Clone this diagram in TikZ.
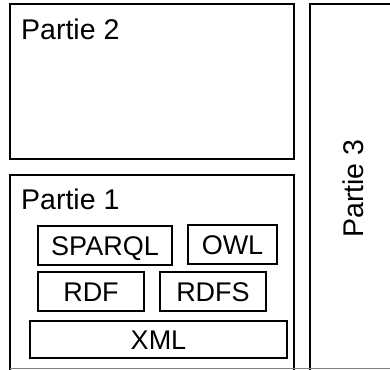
\documentclass[tikz,border=0pt]{standalone}
\usepackage{fontspec}
\setmainfont{Liberation Sans}
\begin{document}
\begin{tikzpicture}[x=1pt,y=-1pt,
  outerbox/.style={draw=black,line width=2pt},
  layerbox/.style={draw=black,line width=1.6pt,inner sep=0pt,
    font=\fontsize{27}{32}\selectfont,text height=19.3pt,text depth=0pt},
  titletext/.style={inner sep=0pt,font=\fontsize{28.5}{34}\selectfont}]
\useasboundingbox (0,0) rectangle (390,369);
% outer parts
\draw[outerbox] (10,4) rectangle (294,159);
\draw[outerbox] (10,372) -- (10,175) -- (294,175) -- (294,372);
\draw[outerbox] (310,372) -- (310,4) -- (394,4);
\draw[gray,line width=1pt] (10,368.5) -- (390,368.5);
\node[titletext,anchor=base west] (p2) at (21,39) {Partie 2};
\node[titletext,anchor=base west] (p1) at (21,209) {Partie 1};
\node[titletext,anchor=base,rotate=90] (p3) at (363,188.5) {Partie 3};
% layers
\node[layerbox,minimum width=134pt,minimum height=39pt] (sparql) at (105,245.5) {SPARQL};
\node[layerbox,minimum width=89pt,minimum height=39pt] (owl) at (232.5,244.5) {OWL};
\node[layerbox,minimum width=106pt,minimum height=39pt] (rdf) at (91,291.5) {RDF};
\node[layerbox,minimum width=106pt,minimum height=39pt] (rdfs) at (213,291.5) {RDFS};
\node[layerbox,minimum width=257pt,minimum height=37pt] (xml) at (158.5,339.5) {XML};
\end{tikzpicture}
\end{document}
